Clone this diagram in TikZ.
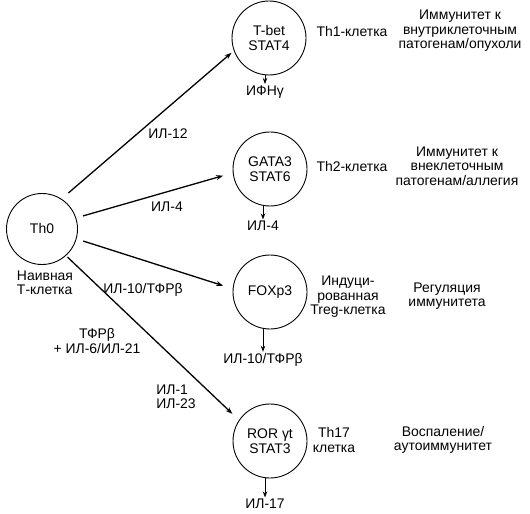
\documentclass[tikz,border=0pt]{standalone}
\usepackage{fontspec}
\setmainfont{Liberation Sans}
\usetikzlibrary{arrows.meta}
\begin{document}
\begin{tikzpicture}[x=1bp,y=-1bp,
  font=\fontsize{14}{14.5}\selectfont,
  cell/.style={draw, circle, line width=0.9bp, minimum size=74bp, inner sep=0pt, align=center},
  lbl/.style={inner sep=0pt, align=center},
  lbll/.style={inner sep=0pt, align=left},
  mainarrow/.style={line width=1.3bp, -{Stealth[length=7bp,width=5bp]}},
  downarrow/.style={line width=0.9bp, -{Stealth[length=6bp,width=4.5bp]}}]
\useasboundingbox (0,0) rectangle (530,514);
% cells
\node[cell, minimum size=71bp] (th0) at (42,229) {Th0};
\node[cell] (tbet) at (269,38) {T-bet\\STAT4};
\node[cell] (gata) at (270,169) {GATA3\\STAT6};
\node[cell] (foxp) at (270,292) {FOXp3};
\node[cell] (ror) at (270,441) {ROR γt\\STAT3};
% naive label
\node[lbll] (naive) at (45,283) {Наивная\\Т-клетка};
% products
\node[lbl] (ifn) at (265,92) {ИФНγ};
\node[lbl] (il4o) at (263,226) {ИЛ-4};
\node[lbl] (il10o) at (263,360) {ИЛ-10/ТФРβ};
\node[lbl] (il17o) at (265,504) {ИЛ-17};
\draw[downarrow, shorten >=1.5bp] (tbet.south -| ifn.north) -- (ifn.north);
\draw[downarrow, shorten >=1.5bp] (gata.south -| il4o.north) -- (il4o.north);
\draw[downarrow, shorten >=1.5bp] (foxp.south -| il10o.north) -- (il10o.north);
\draw[downarrow, shorten >=1.5bp] (ror.south -| il17o.north) -- (il17o.north);
% cell type names
\node[lbl] (th1) at (352,32) {Th1-клетка};
\node[lbl] (th2) at (352,167) {Th2-клетка};
\node[lbl] (treg) at (348,297) {Индуци-\\рованная\\Treg-клетка};
\node[lbl] (th17) at (334,440) {Th17\\клетка};
% functions
\node[lbl] (f1) at (460,31) {Иммунитет к\\внутриклеточным\\патогенам/опухоли};
\node[lbl] (f2) at (457,166) {Иммунитет к\\внеклеточным\\патогенам/аллегия};
\node[lbl] (f3) at (447,296) {Регуляция\\иммунитета};
\node[lbl] (f4) at (443,440) {Воспаление/\\аутоиммунитет};
% main arrows
\draw[mainarrow, shorten <=9bp, shorten >=3bp] (th0.57) -- (tbet.200);
\draw[mainarrow, shorten <=7bp, shorten >=10bp] (th0.18) -- (gata.186);
\draw[mainarrow, shorten <=7bp, shorten >=10bp] (th0.-16) -- (foxp.175);
\draw[mainarrow, shorten <=2bp, shorten >=9bp] (th0.-48) -- (ror.146);
% arrow labels
\node[lbl] (l12) at (168,134) {ИЛ-12};
\node[lbl] (l4) at (167,207) {ИЛ-4};
\node[lbl] (l10) at (143,290) {ИЛ-10/ТФРβ};
\node[lbl] (ltgf) at (97,341) {ТФРβ\\+ ИЛ-6/ИЛ-21};
\node[lbll] (l123) at (176,397) {ИЛ-1\\ИЛ-23};
\end{tikzpicture}
\end{document}
